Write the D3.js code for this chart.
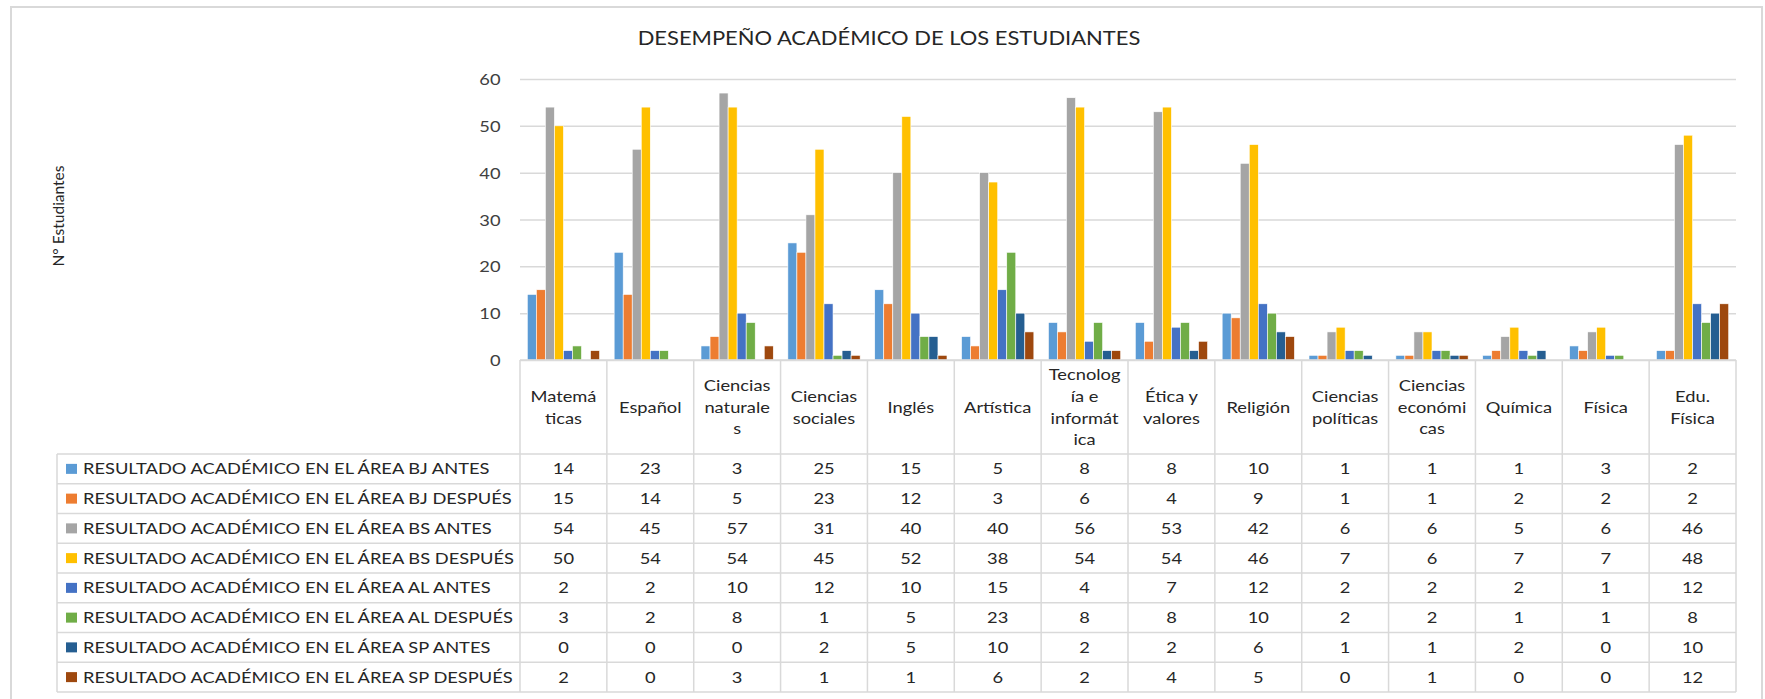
<!DOCTYPE html>
<html>
<head>
<meta charset="utf-8">
<script src="https://cdn.jsdelivr.net/npm/d3@7"></script>
<style>
    html, body { margin: 0; padding: 0; background: #fff; }
    svg { display: block; font-family: Lato, 'Open Sans', sans-serif; }
</style>
</head>
<body>
<svg id="chart" width="1765" height="699"></svg>
<script>
const categories = ['Matemáticas', 'Español', 'Ciencias naturales', 'Ciencias sociales', 'Inglés', 'Artística',
    'Tecnología e informática', 'Ética y valores', 'Religión', 'Ciencias políticas', 'Ciencias económicas',
    'Química', 'Física', 'Edu. Física'];
// header labels as Excel wrapped them inside the table cells
const categoryLines = [['Matemá', 'ticas'], ['Español'], ['Ciencias', 'naturale', 's'], ['Ciencias', 'sociales'],
    ['Inglés'], ['Artística'], ['Tecnolog', 'ía e', 'informát', 'ica'], ['Ética y', 'valores'], ['Religión'],
    ['Ciencias', 'políticas'], ['Ciencias', 'económi', 'cas'], ['Química'], ['Física'], ['Edu.', 'Física']];

const seriesNames = [
    'RESULTADO ACADÉMICO EN EL ÁREA BJ ANTES',
    'RESULTADO ACADÉMICO EN EL ÁREA BJ DESPUÉS',
    'RESULTADO ACADÉMICO EN EL ÁREA BS ANTES',
    'RESULTADO ACADÉMICO EN EL ÁREA BS DESPUÉS',
    'RESULTADO ACADÉMICO EN EL ÁREA AL ANTES',
    'RESULTADO ACADÉMICO EN EL ÁREA AL DESPUÉS',
    'RESULTADO ACADÉMICO EN EL ÁREA SP ANTES',
    'RESULTADO ACADÉMICO EN EL ÁREA SP DESPUÉS'
];
const seriesColors = ['#5b9bd5', '#ed7d31', '#a5a5a5', '#ffc000', '#4472c4', '#70ad47', '#255e91', '#9e480e'];

const bjAntes   = [14, 23, 3, 25, 15, 5, 8, 8, 10, 1, 1, 1, 3, 2];
const bjDespues = [15, 14, 5, 23, 12, 3, 6, 4, 9, 1, 1, 2, 2, 2];
const bsAntes   = [54, 45, 57, 31, 40, 40, 56, 53, 42, 6, 6, 5, 6, 46];
const bsDespues = [50, 54, 54, 45, 52, 38, 54, 54, 46, 7, 6, 7, 7, 48];
const alAntes   = [2, 2, 10, 12, 10, 15, 4, 7, 12, 2, 2, 2, 1, 12];
const alDespues = [3, 2, 8, 1, 5, 23, 8, 8, 10, 2, 2, 1, 1, 8];
const spAntes   = [0, 0, 0, 2, 5, 10, 2, 2, 6, 1, 1, 2, 0, 10];
const spDespues = [2, 0, 3, 1, 1, 6, 2, 4, 5, 0, 1, 0, 0, 12];

const yTicks = [0, 10, 20, 30, 40, 50, 60];

const title = 'DESEMPEÑO ACADÉMICO DE LOS ESTUDIANTES';
const yLabel = 'N° Estudiantes';

const seriesValues = [bjAntes, bjDespues, bsAntes, bsDespues, alAntes, alDespues, spAntes, spDespues];
const series = seriesNames.map((name, i) => ({ name, color: seriesColors[i], values: seriesValues[i] }));

// layout
const plot = { left: 520, right: 1736, top: 79, bottom: 360 };
const headerBottom = 454;
const rowH = 29.75;
const legendLeft = 57;
const SX = 1.18;            // the source picture is stretched horizontally
const fontSize = 15.5;
const textColor = '#262626';
const lineColor = '#d9d9d9';

const stretch = (x, y) => `translate(${x},${y}) scale(${SX},1)`;

const svg = d3.select('#chart');

// chart frame
svg.append('rect')
    .attr('x', 11).attr('y', 7)
    .attr('width', 1751).attr('height', 720)
    .attr('fill', 'none')
    .attr('stroke', lineColor)
    .attr('stroke-width', 2);

const x0 = d3.scaleBand()
    .domain(categories)
    .range([plot.left, plot.right]);
const pad = x0.bandwidth() * 0.084;
const x1 = d3.scaleBand()
    .domain(seriesNames)
    .range([pad, x0.bandwidth() - pad]);
const y = d3.scaleLinear()
    .domain([0, 60])
    .range([plot.bottom, plot.top]);

// gridlines
svg.append('g')
    .attr('class', 'grid')
    .attr('transform', `translate(${plot.left},0)`)
    .call(d3.axisLeft(y).tickValues(yTicks).tickSize(-(plot.right - plot.left)).tickFormat(''))
    .call(g => g.select('.domain').remove())
    .call(g => g.selectAll('line').attr('stroke', lineColor).attr('stroke-width', 1.5));

// y axis labels
svg.append('g')
    .attr('class', 'y axis')
    .attr('transform', `translate(${plot.left},0)`)
    .call(d3.axisLeft(y).tickValues(yTicks).tickSize(0))
    .call(g => g.select('.domain').remove())
    .call(g => g.selectAll('text')
        .attr('x', 0)
        .attr('dy', null)
        .attr('transform', `translate(-19.5,5.6) scale(${SX},1)`)
        .attr('fill', '#404040')
        .style('font-size', `${fontSize}px`)
        .style('font-family', 'Lato'));

// bars
svg.append('g')
    .selectAll('g')
    .data(series)
    .join('g')
        .attr('fill', d => d.color)
    .selectAll('rect')
    .data(d => d.values.map((v, i) => ({ name: d.name, cat: categories[i], v })))
    .join('rect')
        .attr('x', d => x0(d.cat) + x1(d.name))
        .attr('width', x1.bandwidth())
        .attr('y', d => y(d.v))
        .attr('height', d => y(0) - y(d.v))
        .attr('stroke', '#fff')
        .attr('stroke-width', 0.6);

// data table
const table = svg.append('g').attr('class', 'table');
const rowY = i => headerBottom + i * rowH;

// horizontal rules
table.selectAll('.hline')
    .data(d3.range(seriesNames.length + 1))
    .join('line')
        .attr('x1', legendLeft).attr('x2', plot.right)
        .attr('y1', d => rowY(d)).attr('y2', d => rowY(d))
        .attr('stroke', lineColor).attr('stroke-width', 1.5);

table.append('line')
    .attr('x1', plot.left).attr('x2', plot.right)
    .attr('y1', plot.bottom).attr('y2', plot.bottom)
    .attr('stroke', lineColor).attr('stroke-width', 1.5);

// vertical rules
const colEdges = categories.map(c => x0(c)).concat([plot.right]);
table.selectAll('.vline')
    .data(colEdges)
    .join('line')
        .attr('x1', d => d).attr('x2', d => d)
        .attr('y1', plot.bottom).attr('y2', rowY(seriesNames.length))
        .attr('stroke', lineColor).attr('stroke-width', 1.5);

table.append('line')
    .attr('x1', legendLeft).attr('x2', legendLeft)
    .attr('y1', headerBottom).attr('y2', rowY(seriesNames.length))
    .attr('stroke', lineColor).attr('stroke-width', 1.5);

// header labels
const headerMid = (plot.bottom + headerBottom) / 2;
const lineH = 21.8;
table.selectAll('.header')
    .data(categoryLines)
    .join('g')
        .attr('class', 'header')
    .each(function (lines, i) {
        const cx = x0(categories[i]) + x0.bandwidth() / 2;
        const start = headerMid - (lines.length - 1) * lineH / 2;
        d3.select(this).selectAll('text')
            .data(lines)
            .join('text')
                .attr('transform', (d, j) => stretch(cx, start + j * lineH + 5.6))
                .attr('text-anchor', 'middle')
                .attr('fill', textColor)
                .style('font-size', `${fontSize}px`)
                .text(d => d);
    });

// legend cells
const legendRows = table.selectAll('.legend')
    .data(series)
    .join('g')
        .attr('class', 'legend');

legendRows.append('rect')
    .attr('x', 66)
    .attr('y', (d, i) => rowY(i) + rowH / 2 - 5)
    .attr('width', 11)
    .attr('height', 10)
    .attr('fill', d => d.color);

legendRows.append('text')
    .attr('transform', (d, i) => stretch(83, rowY(i) + rowH / 2 + 5.6))
    .attr('fill', textColor)
    .style('font-size', `${fontSize}px`)
    .text(d => d.name);

// values
legendRows.selectAll('.val')
    .data((d, i) => d.values.map((v, j) => ({ v, row: i, cat: categories[j] })))
    .join('text')
        .attr('class', 'val')
        .attr('transform', d => stretch(x0(d.cat) + x0.bandwidth() / 2, rowY(d.row) + rowH / 2 + 5.6))
        .attr('text-anchor', 'middle')
        .attr('fill', textColor)
        .style('font-size', `${fontSize}px`)
        .text(d => d.v);

// title and axis label
svg.append('text')
    .attr('transform', stretch(889, 45))
    .attr('text-anchor', 'middle')
    .attr('fill', textColor)
    .style('font-size', '18.6px')
    .text(title);

svg.append('text')
    .attr('transform', `translate(64,216) rotate(-90)`)
    .attr('text-anchor', 'middle')
    .attr('fill', textColor)
    .style('font-size', `${fontSize}px`)
    .text(yLabel);
</script>
</body>
</html>
